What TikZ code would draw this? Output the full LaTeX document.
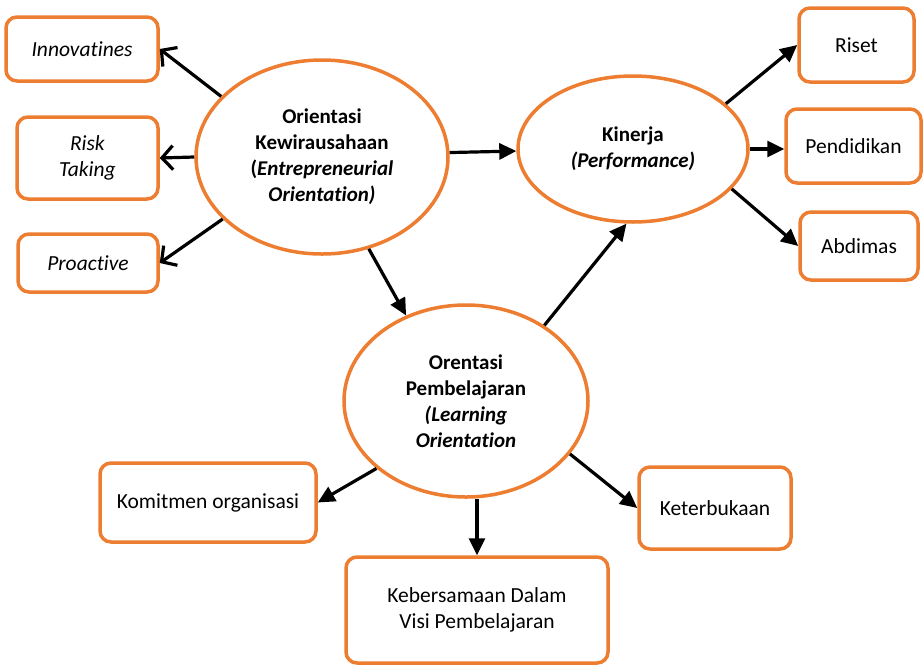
\documentclass[tikz,border=0pt]{standalone}
\usepackage{fontspec}
\setmainfont{Carlito}[Ligatures={NoCommon}]
\usetikzlibrary{arrows.meta,shapes.geometric}
\definecolor{org}{HTML}{ED7D31}
\tikzset{
  box/.style={draw=org, line width=3.5pt, rounded corners=11pt, fill=white, align=center, inner sep=0pt, font=\fontsize{21.5}{26.5}\selectfont},
  oval/.style={draw=org, line width=3.5pt, ellipse, fill=white, align=center, inner sep=0pt, font=\fontsize{21}{26}\selectfont\bfseries},
  arr/.style={line width=3.2pt, -{Triangle[length=17pt,width=16pt]}},
  barb/.style={line width=3.2pt, -{Straight Barb[length=11pt,width=24pt,line width=3.2pt]}}
}
\begin{document}
\begin{tikzpicture}[x=1pt,y=-1pt]
\useasboundingbox (0,0) rectangle (923,665);
% ellipses
\node[oval, minimum width=252pt, minimum height=194pt] (ok) at (322,157) {Orientasi\\Kewirausahaan\\(\textit{Entrepreneurial}\\\textit{Orientation)}};
\node[oval, minimum width=230pt, minimum height=146pt] (kin) at (633,149) {Kinerja\\\textit{(Performance)}};
\node[oval, minimum width=244pt, minimum height=192pt] (lrn) at (466,401) {Orentasi\\Pembelajaran\\\textit{(Learning}\\\textit{Orientation}};
% boxes
\node[box, minimum width=152pt, minimum height=64pt] (inno) at (82,49) {\textit{Innovatines}};
\node[box, minimum width=141pt, minimum height=82pt] (risk) at (87.5,158) {\textit{Risk}\\\textit{Taking}};
\node[box, minimum width=140pt, minimum height=58pt] (proa) at (88,263) {\textit{Proactive}};
\node[box, minimum width=115pt, minimum height=74pt] (riset) at (856.5,45) {Riset};
\node[box, minimum width=135pt, minimum height=74pt] (pend) at (853.5,146) {Pendidikan};
\node[box, minimum width=118pt, minimum height=68pt] (abdi) at (859,246) {Abdimas};
\node[box, minimum width=216pt, minimum height=79pt] (komit) at (208,502.5) {Komitmen organisasi};
\node[box, minimum width=152pt, minimum height=82pt] (keter) at (715,508) {Keterbukaan};
\node[box, minimum width=262pt, minimum height=106pt] (keber) at (477,610) {Kebersamaan Dalam\\Visi Pembelajaran};
% connectors
\draw[barb] (ok.149.5) -- (inno.east);
\draw[barb] (ok.west) -- (risk.east);
\draw[barb] (ok.212.9) -- (proa.east);
\draw[arr] (ok.297.3) -- (lrn.125.2);
\draw[arr] (ok.2) -- (kin.181.5);
\draw[arr] (lrn.44.6) -- (kin.265.4);
\draw[arr] (kin.26.8) -- (riset.west);
\draw[arr] (kin.east) -- (kin.east -| pend.west);
\draw[arr] (kin.338.7) -- (abdi.west);
\draw[arr] (lrn.217.3) -- (komit.east);
\draw[arr] (lrn.south -| keber.north) -- (keber.north);
\draw[arr] (lrn.333.7) -- (keter.west);
\end{tikzpicture}
\end{document}
